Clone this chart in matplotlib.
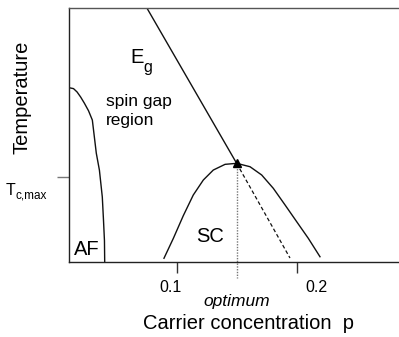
import matplotlib
matplotlib.use("Agg")
import matplotlib.pyplot as plt
from matplotlib.transforms import ScaledTranslation

# ---- data ----
af_p = [0.0105, 0.014, 0.017, 0.020, 0.023, 0.0265, 0.0297, 0.033, 0.0356, 0.038, 0.039, 0.0398, 0.040]
af_T = [2.05, 2.04, 2.00, 1.94, 1.87, 1.78, 1.67, 1.28, 1.08, 0.765, 0.49, 0.25, 0.0]

sc_p = [0.0894, 0.0972, 0.1055, 0.1138, 0.1222, 0.1305, 0.1403, 0.150,
        0.1611, 0.1708, 0.1805, 0.1903, 0.200, 0.2097, 0.2194]
sc_T = [0.044, 0.278, 0.545, 0.788, 0.965, 1.082, 1.149, 1.161,
        1.121, 1.024, 0.867, 0.671, 0.474, 0.278, 0.062]

eg_p = [0.0753, 0.150]
eg_T = [2.985, 1.16]
eg_dash_p = [0.150, 0.1944]
eg_dash_T = [1.16, 0.047]

p_opt = 0.15
T_peak = 1.16
Tc_max = 1.0

xticks = [0.1, 0.2]
xticklabels = ["0.1", "0.2"]

plt.rcParams['font.family'] = ["Liberation Sans", "DejaVu Sans"]

fig = plt.figure(figsize=(3.99, 3.37), dpi=100)
ax = fig.add_axes([69.3 / 399, 1 - 262 / 337, 1 - 69.3 / 399, (262 - 8.3) / 337])
ax.set_xlim(0.0105, 0.0105 + (399 - 69.3) / 1200)
ax.set_ylim(0, 2.985)

lc = "#111111"
ax.plot(af_p, af_T, color=lc, lw=1.0)
ax.plot(sc_p, sc_T, color=lc, lw=1.0)
ax.plot(eg_p, eg_T, color=lc, lw=1.0)
ax.plot(eg_dash_p, eg_dash_T, color=lc, lw=0.9, ls=(0, (3, 2)))
ax.plot([p_opt, p_opt], [T_peak, -0.19], color="#777777", lw=1.0, ls=(0, (1, 1)), clip_on=False)
ax.plot([p_opt], [T_peak], marker="^", color="black", ms=6, clip_on=False)

ax.spines["right"].set_visible(False)
for s in ["left", "bottom", "top"]:
    ax.spines[s].set_color("#222222")
    ax.spines[s].set_linewidth(1.0)
ax.spines["top"].set_color("#555555")

ax.set_xticks(xticks)
ax.set_xticklabels(xticklabels, fontsize=11.5)
ax.tick_params(axis="x", direction="out", length=8, width=1.0, color="#333333", pad=5)
offsets = [-5.7, 19.3]
for lab, dx in zip(ax.get_xticklabels(), offsets):
    lab.set_transform(lab.get_transform() + ScaledTranslation(dx / 100, 0, fig.dpi_scale_trans))

ax.set_yticks([Tc_max])
ax.set_yticklabels([""])
ax.tick_params(axis="y", direction="out", length=9, width=1.0, color="#777777")

# texts
ax.text(0.0144, 0.08, "AF", fontsize=14.5, ha="left", va="baseline")
ax.text(0.116, 0.235, "SC", fontsize=14.5, ha="left", va="baseline")
ax.text(0.0611, 2.34, "E", fontsize=14.5, ha="left", va="baseline")
ax.text(0.0722, 2.24, "g", fontsize=11.5, ha="left", va="baseline")
ax.text(0.0411, 1.98, "spin gap\nregion", fontsize=12.5, ha="left", va="top", linespacing=1.38)
ax.text(p_opt, -0.47, "optimum", fontsize=12.5, style="italic", ha="center", va="center")
ax.text(0.160, -0.72, "Carrier concentration  p", fontsize=14.5, ha="center", va="center")

fig.text(22 / 399, 1 - 97 / 337, "Temperature", fontsize=14.5, rotation=90, ha="center", va="center")
fig.text(6 / 399, 1 - 195 / 337, "T", fontsize=11.5, ha="left", va="baseline")
fig.text(15 / 399, 1 - 199 / 337, "c,max", fontsize=8.5, ha="left", va="baseline")

fig.savefig("out.png", dpi=100)
